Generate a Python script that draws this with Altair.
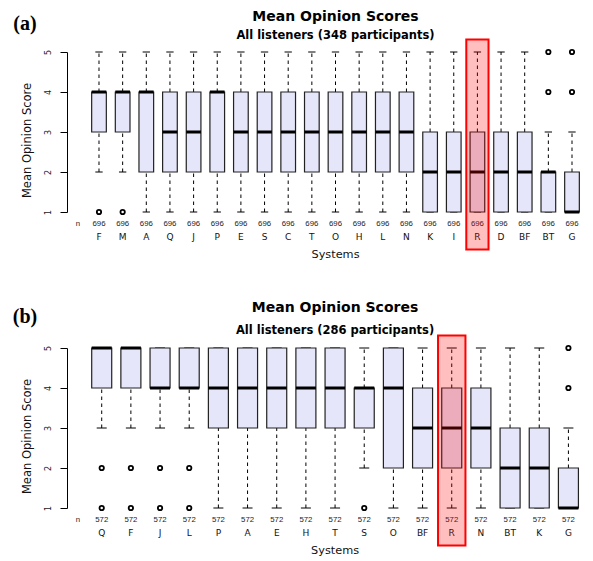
import altair as alt
import pandas as pd

# ---------------- Panel (a) data ----------------
sys_a = ["F", "M", "A", "Q", "J", "P", "E", "S", "C", "T", "O", "H", "L", "N",
         "K", "I", "R", "D", "BF", "BT", "G"]
lo_a = [2, 2, 1, 1, 1, 1, 1, 1, 1, 1, 1, 1, 1, 1, 1, 1, 1, 1, 1, 1, 1]
q1_a = [3, 3, 2, 2, 2, 2, 2, 2, 2, 2, 2, 2, 2, 2, 1, 1, 1, 1, 1, 1, 1]
med_a = [4, 4, 4, 3, 3, 4, 3, 3, 3, 3, 3, 3, 3, 3, 2, 2, 2, 2, 2, 2, 1]
q3_a = [4, 4, 4, 4, 4, 4, 4, 4, 4, 4, 4, 4, 4, 4, 3, 3, 3, 3, 3, 2, 2]
hi_a = [5, 5, 5, 5, 5, 5, 5, 5, 5, 5, 5, 5, 5, 5, 5, 5, 5, 5, 5, 3, 3]
out_sys_a = ["F", "M", "BT", "BT", "G", "G"]
out_val_a = [1, 1, 4, 5, 4, 5]
n_a = 696
participants_a = 348

# ---------------- Panel (b) data ----------------
sys_b = ["Q", "F", "J", "L", "P", "A", "E", "H", "T", "S", "O", "BF", "R", "N",
         "BT", "K", "G"]
lo_b = [3, 3, 3, 3, 1, 1, 1, 1, 1, 2, 1, 1, 1, 1, 1, 1, 1]
q1_b = [4, 4, 4, 4, 3, 3, 3, 3, 3, 3, 2, 2, 2, 2, 1, 1, 1]
med_b = [5, 5, 4, 4, 4, 4, 4, 4, 4, 4, 4, 3, 3, 3, 2, 2, 1]
q3_b = [5, 5, 5, 5, 5, 5, 5, 5, 5, 4, 5, 4, 4, 4, 3, 3, 2]
hi_b = [5, 5, 5, 5, 5, 5, 5, 5, 5, 5, 5, 5, 5, 5, 5, 5, 3]
out_sys_b = ["Q", "Q", "F", "F", "J", "J", "L", "L", "S", "G", "G"]
out_val_b = [1, 2, 1, 2, 1, 2, 1, 2, 1, 4, 5]
n_b = 572
participants_b = 286

highlight = "R"
FONT = "DejaVu Sans"
LAVENDER = "#E6E6FA"


def panel(systems, lo, q1, med, q3, hi, out_sys, out_val, n, participants,
          tag, xdom, half_w, tag_y, sub_y, title_y):
    idx = list(range(1, len(systems) + 1))
    df = pd.DataFrame({"sys": systems, "idx": idx, "lo": lo, "q1": q1,
                       "med": med, "q3": q3, "hi": hi, "n": [str(n)] * len(systems)})
    pos = dict(zip(systems, idx))
    dfo = pd.DataFrame({"idx": [pos[s] for s in out_sys], "val": out_val})
    dfh = pd.DataFrame({"idx": [pos[highlight]]})
    one = pd.DataFrame({"k": [0]})
    center = (len(systems) + 1) / 2

    xs = alt.Scale(domain=xdom, nice=False, zero=False)
    ys = alt.Scale(domain=[1, 5], nice=False, zero=False)

    yaxis = alt.Axis(values=[1, 2, 3, 4, 5], tickSize=7, labelAngle=270,
                     labelAlign="center", labelBaseline="middle", labelPadding=12,
                     labelFontSize=8, labelFont=FONT, labelColor="#222",
                     grid=False, domainColor="black", tickColor="black",
                     title="Mean Opinion Score", titleFont=FONT, titleFontSize=11.5,
                     titleFontWeight="normal", titleColor="#111",
                     titleX=-40, titleY=88, titleAngle=270, titleAlign="center",
                     titleBaseline="middle")

    base = alt.Chart(df).transform_calculate(
        bl=f"datum.idx - {half_w}", br=f"datum.idx + {half_w}",
        sl=f"datum.idx - {half_w / 2}", sr=f"datum.idx + {half_w / 2}")

    X = lambda f: alt.X(f, type="quantitative", scale=xs, axis=None)
    Y = lambda f: alt.Y(f, type="quantitative", scale=ys, axis=yaxis)

    wl = base.mark_rule(strokeDash=[3.5, 3.5], color="black", strokeWidth=1).encode(
        x=X("idx"), y=Y("lo"), y2="q1:Q")
    wu = base.mark_rule(strokeDash=[3.5, 3.5], color="black", strokeWidth=1).encode(
        x=X("idx"), y=Y("q3"), y2="hi:Q")
    st_lo = base.mark_rule(color="black", strokeWidth=1).encode(
        x=X("sl"), x2="sr:Q", y=Y("lo"))
    st_hi = base.mark_rule(color="black", strokeWidth=1).encode(
        x=X("sl"), x2="sr:Q", y=Y("hi"))
    box = base.mark_rect(fill=LAVENDER, stroke="#222", strokeWidth=1.2).encode(
        x=X("bl"), x2="br:Q", y=Y("q1"), y2="q3:Q")
    medl = base.mark_rule(color="black", strokeWidth=3).encode(
        x=X("bl"), x2="br:Q", y=Y("med"))
    outs = alt.Chart(dfo).mark_point(shape="circle", filled=False, size=19,
                                     strokeWidth=1.8, color="black", opacity=1).encode(
        x=X("idx"), y=Y("val"))
    cnt = base.mark_text(font="Liberation Sans", fontSize=7.8, color="#222",
                         baseline="middle").encode(
        x=X("idx"), y=alt.value(172), text="n:N")
    nm = base.mark_text(font=FONT, fontSize=9, color="#111", baseline="middle").encode(
        x=X("idx"), y=alt.value(185), text="sys:N")
    nlab = alt.Chart(one).mark_text(font="Liberation Sans", fontSize=7.8, color="#222",
                                    baseline="middle").encode(
        x=alt.value(11), y=alt.value(172), text=alt.datum("n"))
    xt = alt.Chart(one).mark_text(font=FONT, fontSize=11.3, color="#111",
                                  baseline="middle").encode(
        x=alt.X(datum=center, type="quantitative", scale=xs, axis=None),
        y=alt.value(203), text=alt.datum("Systems"))
    t1 = alt.Chart(one).mark_text(font=FONT, fontSize=14, fontWeight="bold",
                                  color="black", baseline="alphabetic").encode(
        x=alt.X(datum=center, type="quantitative", scale=xs, axis=None),
        y=alt.value(title_y), text=alt.datum("Mean Opinion Scores"))
    t2 = alt.Chart(one).mark_text(font=FONT, fontSize=11.5, fontWeight="bold",
                                  color="black", baseline="alphabetic").encode(
        x=alt.X(datum=center, type="quantitative", scale=xs, axis=None),
        y=alt.value(sub_y),
        text=alt.datum(f"All listeners ({participants} participants)"))
    tg = alt.Chart(one).mark_text(font="Liberation Serif", fontSize=20,
                                  fontWeight="bold", color="black",
                                  baseline="alphabetic").encode(
        x=alt.value(-42), y=alt.value(tag_y), text=alt.datum(tag))
    hl = alt.Chart(dfh).transform_calculate(
        hl="datum.idx - 0.47", hr="datum.idx + 0.47", yb="0.06", yt="5.31"
    ).mark_rect(fill="#ff0000", fillOpacity=0.25, stroke="#ff0000",
                strokeWidth=2).encode(
        x=X("hl"), x2="hr:Q", y=Y("yb"), y2="yt:Q")

    return alt.layer(wl, wu, st_lo, st_hi, box, medl, outs, cnt, nm, nlab, xt,
                     t1, t2, tg, hl).properties(width=516, height=160)


pa = panel(sys_a, lo_a, q1_a, med_a, q3_a, hi_a, out_sys_a, out_val_a, n_a,
           participants_a, "(a)", [-0.353, 21.465], 0.31, -22, -13, -31)
pb = panel(sys_b, lo_b, q1_b, med_b, q3_b, hi_b, out_sys_b, out_val_b, n_b,
           participants_b, "(b)", [-0.19, 17.5], 0.343, -25.5, -14.5, -36)

chart = alt.vconcat(pa, pb, spacing=136, bounds="flush").properties(
    padding={"left": 4, "top": 2, "right": 0, "bottom": 0}
).configure(font=FONT).configure_view(stroke=None)

chart.save("out.html", embed_options={"renderer": "svg", "actions": False})
